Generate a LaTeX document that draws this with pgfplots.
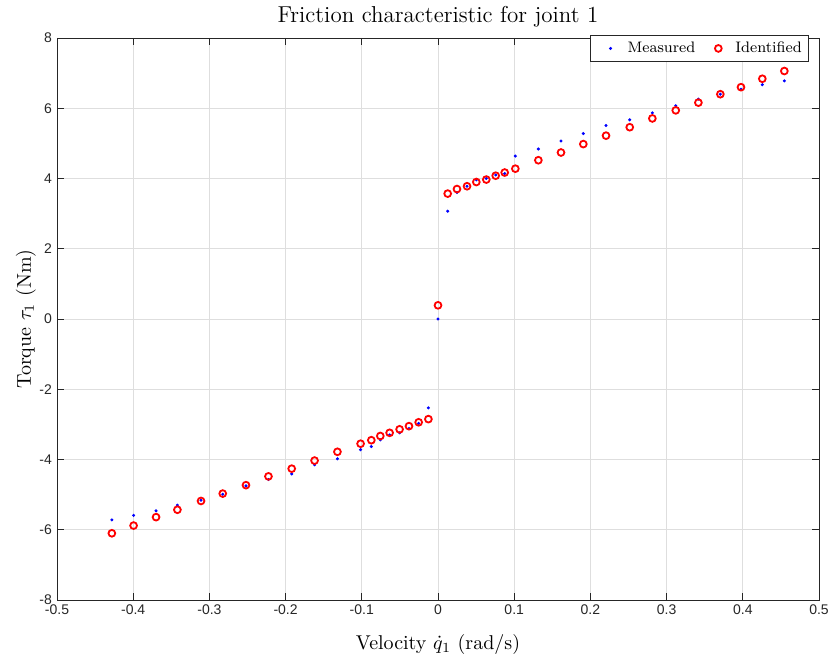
\documentclass[border=0pt]{standalone}
\usepackage{fontspec}
\usepackage{pgfplots}
\usepackage{pgfplotstable}
\pgfplotsset{compat=1.18}
\newfontfamily\ticksans{Liberation Sans}

\pgfplotstableread{
v        meas    ident
-0.428   -5.72   -6.10
-0.3995  -5.59   -5.88
-0.370   -5.46   -5.64
-0.342   -5.30   -5.43
-0.311   -5.16   -5.18
-0.2825  -4.99   -4.97
-0.252   -4.75   -4.73
-0.2225  -4.57   -4.48
-0.192   -4.41   -4.26
-0.162   -4.15   -4.03
-0.132   -3.98   -3.78
-0.1016  -3.72   -3.55
-0.0875  -3.63   -3.45
-0.0757  -3.44   -3.33
-0.0635  -3.30   -3.24
-0.0504  -3.24   -3.14
-0.0381  -3.12   -3.05
-0.0254  -2.97   -2.94
-0.0126  -2.53   -2.85
0         0.00    0.39
0.0127    3.07    3.57
0.0249    3.60    3.70
0.0381    3.78    3.78
0.0503    3.96    3.90
0.0634    4.00    3.97
0.0757    4.10    4.08
0.0875    4.14    4.17
0.1015    4.64    4.28
0.1317    4.84    4.52
0.1614    5.07    4.74
0.1907    5.28    4.98
0.2205    5.51    5.22
0.2516    5.67    5.46
0.2813    5.87    5.71
0.312     6.07    5.94
0.3417    6.26    6.16
0.3705    6.40    6.40
0.3976    6.54    6.60
0.4256    6.67    6.84
0.4545    6.78    7.06
}\frictab

\definecolor{axgray}{gray}{0.15}
\definecolor{gridgray}{gray}{0.87}

\begin{document}
\begin{tikzpicture}
\begin{axis}[
    scale only axis,
    width=381pt, height=281pt,
    xmin=-0.5, xmax=0.5, ymin=-8, ymax=8,
    xtick={-0.5,-0.4,...,0.5},
    xticklabels={-0.5,-0.4,-0.3,-0.2,-0.1,0,0.1,0.2,0.3,0.4,0.5},
    ytick={-8,-6,...,8},
    yticklabels={-8,-6,-4,-2,0,2,4,6,8},
    tick label style={font=\ticksans\fontsize{7}{8}\selectfont, text=axgray},
    xticklabel style={yshift=1pt},
    yticklabel style={xshift=1pt},
    tick align=inside,
    major tick length=3.5pt,
    tick style={axgray, line width=0.4pt},
    axis line style={axgray, line width=0.4pt},
    grid=major,
    major grid style={gridgray, line width=0.4pt},
    title={Friction characteristic for joint 1},
    title style={font=\fontsize{11.5}{13}\selectfont, yshift=-4pt},
    xlabel={Velocity $\dot{q}_1$ (rad/s)},
    ylabel={Torque $\tau_1$ (Nm)},
    label style={font=\fontsize{10}{12}\selectfont},
    xlabel style={yshift=-3pt},
    ylabel style={yshift=-5pt},
    legend columns=2,
    legend style={at={(0.987,1.005)}, anchor=north east, draw=axgray,
        line width=0.4pt, font=\fontsize{7.6}{9}\selectfont,
        inner ysep=1pt, inner xsep=1.5pt, row sep=0pt,
        /tikz/every even column/.append style={column sep=1pt}},
    legend image code/.code={%
        \path[draw=none] (0pt,0pt) -- (15pt,0pt);
        \draw plot[only marks] coordinates {(8.5pt,0pt)};},
    legend cell align=left,
]
\addplot[only marks, mark=*, mark size=0.55pt, blue, mark options={draw=blue, fill=blue}]
    table[x=v, y=meas] {\frictab};
\addlegendentry{Measured}
\addplot[only marks, mark=o, mark size=1.7pt, red, mark options={line width=0.9pt}]
    table[x=v, y=ident] {\frictab};
\addlegendentry{Identified}
\end{axis}
\pgfresetboundingbox
\path[use as bounding box] ([xshift=-28.5pt,yshift=-31pt]current axis.south west)
    rectangle ([xshift=6pt,yshift=19pt]current axis.north east);
\end{tikzpicture}
\end{document}
